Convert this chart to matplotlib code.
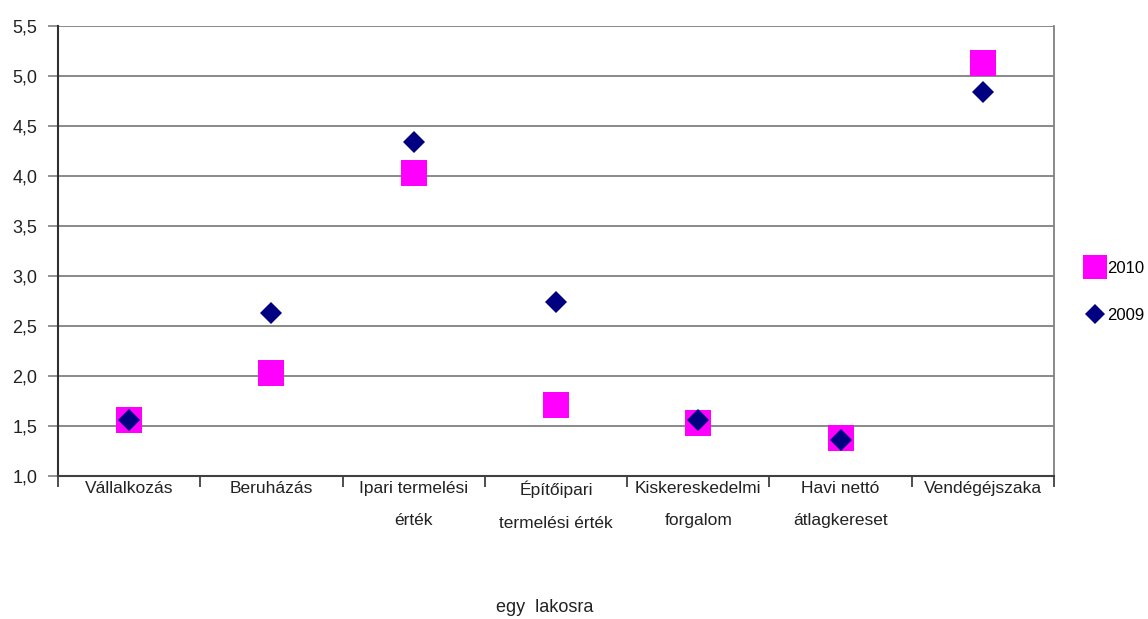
import matplotlib
matplotlib.use('Agg')
import matplotlib.pyplot as plt
from matplotlib.ticker import FixedLocator, FuncFormatter

categories = ['Vállalkozás', 'Beruházás', 'Ipari termelési\nérték',
              'Építőipari\ntermelési érték', 'Kiskereskedelmi\nforgalom',
              'Havi nettó\nátlagkereset', 'Vendégéjszaka']
values_2010 = [1.56, 2.03, 4.03, 1.71, 1.53, 1.38, 5.13]
values_2009 = [1.56, 2.63, 4.34, 2.74, 1.56, 1.36, 4.84]
y_ticks = [1.0, 1.5, 2.0, 2.5, 3.0, 3.5, 4.0, 4.5, 5.0, 5.5]

plt.rcParams['font.family'] = ['Liberation Sans', 'DejaVu Sans']

fig = plt.figure(figsize=(11.48, 6.19), dpi=100)
ax = fig.add_axes([58 / 1148, (619 - 476) / 619, (1054 - 58) / 1148, 450 / 619])

x = list(range(len(categories)))
ax.plot(x, values_2010, linestyle='none', marker='s', markersize=19,
        color='#ff00ff', markeredgewidth=0, label='2010', zorder=3)
ax.plot(x, values_2009, linestyle='none', marker='D', markersize=11,
        color='#000080', markeredgewidth=0, label='2009', zorder=4)

ax.set_xlim(-0.5, len(categories) - 0.5)
ax.set_ylim(1.0, 5.5)

ax.set_yticks(y_ticks)
ax.yaxis.set_major_formatter(FuncFormatter(lambda v, p: f'{v:.1f}'.replace('.', ',')))
ax.tick_params(axis='y', length=7, width=1.2, color='#808080', labelsize=13,
               pad=8, labelcolor='#222222')
ax.grid(axis='y', color='#808080', linewidth=1.3)
ax.set_axisbelow(True)

ax.set_xticks(x)
ax.set_xticklabels(categories, fontsize=12.5, linespacing=2.45, color='#222222')
ax.tick_params(axis='x', which='major', length=0, pad=3.5)
ax.xaxis.set_minor_locator(FixedLocator([i - 0.5 for i in range(len(categories) + 1)]))
ax.tick_params(axis='x', which='minor', length=8, width=1.3, color='#404040')

ax.spines['top'].set_visible(False)
ax.spines['right'].set_color('#808080')
ax.spines['right'].set_linewidth(1.3)
ax.spines['left'].set_color('#303030')
ax.spines['left'].set_linewidth(1.5)
ax.spines['bottom'].set_color('#404040')
ax.spines['bottom'].set_linewidth(1.5)

handles, labels = ax.get_legend_handles_labels()
fig.legend(handles, labels, loc='center left',
           bbox_to_anchor=(1085 / 1148, (619 - 292) / 619),
           frameon=False, fontsize=12, handlelength=1.2, handletextpad=0.1,
           labelspacing=1.9, markerscale=0.9, borderpad=0, borderaxespad=0)

fig.text(545 / 1148, (619 - 607) / 619, 'egy  lakosra', ha='center', va='center',
         fontsize=13, color='#222222')

plt.savefig('out.png', dpi=100)
